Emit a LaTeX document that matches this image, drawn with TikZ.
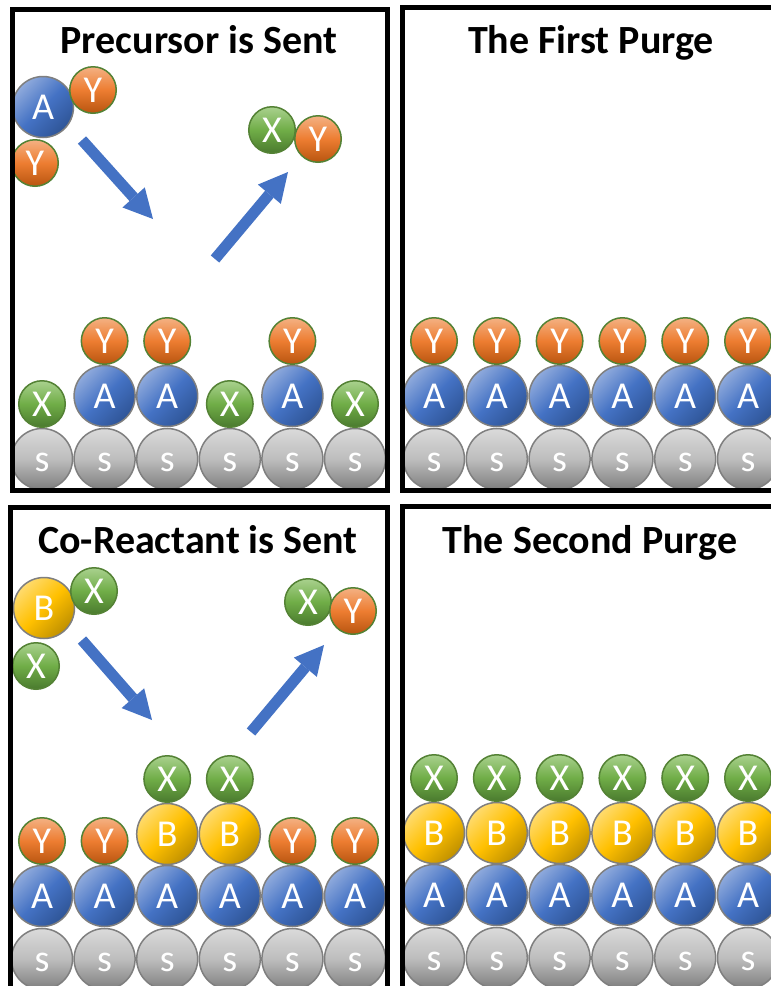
\documentclass[tikz,border=0pt]{standalone}
\usepackage{fontspec}
\setmainfont{Carlito}
\usetikzlibrary{arrows.meta}

% ball colours
\definecolor{sTop}{HTML}{DADADA}
\definecolor{sMid}{HTML}{BDBDBD}
\definecolor{sBot}{HTML}{7E7E7E}
\definecolor{sLine}{HTML}{7F7F7F}
\definecolor{aTop}{HTML}{8FAADC}
\definecolor{aMid}{HTML}{4472C4}
\definecolor{aBot}{HTML}{2F5597}
\definecolor{bTop}{HTML}{FFDB6E}
\definecolor{bMid}{HTML}{FFC000}
\definecolor{bBot}{HTML}{BF9000}
\definecolor{yTop}{HTML}{F4B183}
\definecolor{yMid}{HTML}{ED7D31}
\definecolor{yBot}{HTML}{B85510}
\definecolor{xTop}{HTML}{A9D18E}
\definecolor{xMid}{HTML}{70AD47}
\definecolor{xBot}{HTML}{4A7A2E}
\definecolor{gLine}{HTML}{548235}
\definecolor{flowBlue}{HTML}{4472C4}

\tikzset{
  ball/.style={circle, draw=sLine, line width=1.5pt, inner sep=0pt,
    text=white, font=\fontsize{38}{38}\selectfont,
    text height=24pt, text depth=0pt},
  bigball/.style={ball, minimum size=61pt},
  smallball/.style={ball, draw=gLine, minimum size=46.5pt},
  sball/.style={bigball, top color=sTop, bottom color=sBot, middle color=sMid},
  aball/.style={bigball, top color=aTop, bottom color=aBot, middle color=aMid, shading angle=45},
  bball/.style={bigball, top color=bTop, bottom color=bBot, middle color=bMid, shading angle=45},
  yball/.style={smallball, top color=yTop, bottom color=yBot, middle color=yMid},
  xball/.style={smallball, top color=xTop, bottom color=xBot, middle color=xMid},
  panel/.style={draw=black, line width=5pt},
  title/.style={anchor=base, font=\fontsize{40}{40}\selectfont\bfseries},
  flow/.style={draw=flowBlue, line width=11pt,
    -{Triangle[width=30pt, length=29pt, line width=0pt]}},
}

\begin{document}
\begin{tikzpicture}[x=1pt, y=-1pt]
\useasboundingbox (0,0) rectangle (771,986);
\clip (0,0) rectangle (771,986);
\fill[white] (0,0) rectangle (771,986);

% ---------- Precursor is Sent ----------
\node[title] (t1) at (199,53) {Precursor is Sent};
\foreach \i in {0,...,5} {
  \pgfmathsetmacro\xx{42+62.6*\i}
  \node[sball] (p1s\i) at (\xx,459) {s};
}
\foreach \i in {0,3,5} {
  \pgfmathsetmacro\xx{42+62.6*\i}
  \node[xball] (p1m\i) at (\xx,404) {X};
}
\foreach \i in {1,2,4} {
  \pgfmathsetmacro\xx{42+62.6*\i}
  \node[aball] (p1m\i) at (\xx,396) {A};
  \node[yball] (p1y\i) at (\xx,341) {Y};
}
% incoming precursor AY2 and leaving XY
\node[aball] (p1A) at (43,107) {A};
\node[yball] (p1Ya) at (93,90) {Y};
\node[yball] (p1Yb) at (35,163) {Y};
\node[xball] (p1X) at (272,130) {X};
\node[yball] (p1Y) at (318,139) {Y};
\coordinate (f1a) at (82,140);
\coordinate (f1b) at (153,219);
\coordinate (f2a) at (215,259);
\coordinate (f2b) at (288,172);
\draw[flow] (f1a) -- (f1b);
\draw[flow] (f2a) -- (f2b);

% ---------- The First Purge ----------
\node[title] (t2) at (591,53) {The First Purge};
\foreach \i in {0,...,5} {
  \pgfmathsetmacro\xx{434+62.8*\i}
  \node[sball] (p2s\i) at (\xx,459) {s};
  \node[aball] (p2a\i) at (\xx,396) {A};
  \node[yball] (p2y\i) at (\xx,341) {Y};
}

% ---------- Co-Reactant is Sent ----------
\node[title] (t3) at (198,553) {Co-Reactant is Sent};
\foreach \i in {0,...,5} {
  \pgfmathsetmacro\xx{42+62.6*\i}
  \node[sball] (p3s\i) at (\xx,959) {s};
  \node[aball] (p3a\i) at (\xx,896) {A};
}
\foreach \i in {0,1,4,5} {
  \pgfmathsetmacro\xx{42+62.6*\i}
  \node[yball] (p3y\i) at (\xx,841) {Y};
}
\foreach \i in {2,3} {
  \pgfmathsetmacro\xx{42+62.6*\i}
  \node[bball] (p3b\i) at (\xx,834) {B};
  \node[xball] (p3x\i) at (\xx,779) {X};
}
% incoming co-reactant BX2 and leaving XY
\node[bball] (p3B) at (44,608) {B};
\node[xball] (p3Xa) at (94,591) {X};
\node[xball] (p3Xb) at (36,666) {X};
\node[xball] (p3X) at (308,602) {X};
\node[yball] (p3Y) at (353,611) {Y};
\coordinate (f3a) at (82,640);
\coordinate (f3b) at (152,720);
\coordinate (f4a) at (251,732);
\coordinate (f4b) at (324,645);
\draw[flow] (f3a) -- (f3b);
\draw[flow] (f4a) -- (f4b);

% ---------- The Second Purge ----------
\node[title] (t4) at (590,553) {The Second Purge};
\foreach \i in {0,...,5} {
  \pgfmathsetmacro\xx{434+62.8*\i}
  \node[sball] (p4s\i) at (\xx,958) {s};
  \node[aball] (p4a\i) at (\xx,895) {A};
  \node[bball] (p4b\i) at (\xx,833) {B};
  \node[xball] (p4x\i) at (\xx,778) {X};
}

% ---------- panel frames ----------
\draw[panel] (12.5,9.5) rectangle (387.5,490);
\draw[panel] (402.5,7) rectangle (800,490);
\draw[panel] (10,507) rectangle (387.5,1010);
\draw[panel] (402,506) rectangle (800,1010);
\end{tikzpicture}
\end{document}
